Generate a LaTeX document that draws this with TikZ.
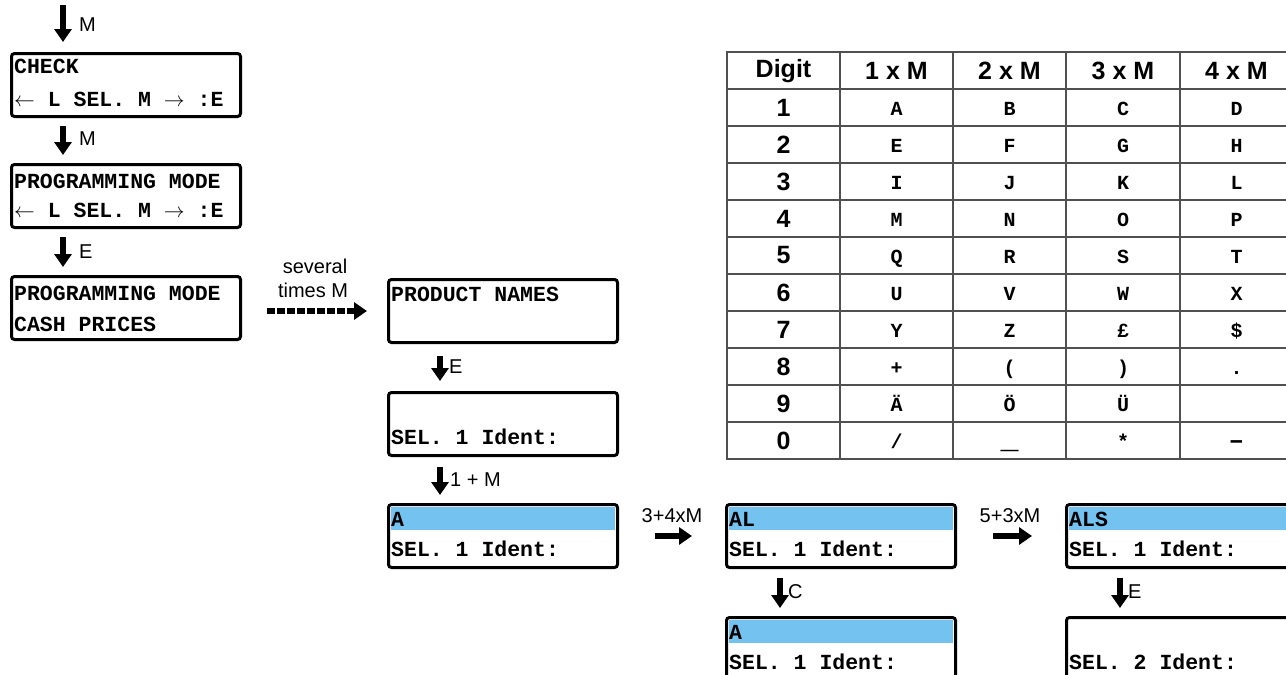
\documentclass[tikz,border=0pt]{standalone}
\usepackage{fontspec}
\setmainfont{Liberation Sans}
\newfontfamily\lcdfont{Liberation Mono}
\usetikzlibrary{arrows.meta,calc}
\definecolor{skyband}{HTML}{74C2F0}
\definecolor{gridgray}{HTML}{505050}
\tikzset{
  lcdbox/.style={draw=black, line width=3pt, rounded corners=3pt, minimum width=229pt, minimum height=63pt, anchor=north west, inner sep=0pt},
  lcdtxt/.style={font=\lcdfont\bfseries\fontsize{21.5}{21.5}\selectfont, anchor=west, inner sep=0pt},
  tbltxt/.style={font=\lcdfont\bfseries\fontsize{20}{20}\selectfont, inner sep=0pt, anchor=base},
  tblhead/.style={font=\bfseries\fontsize{25}{25}\selectfont, inner sep=0pt},
  blk/.style={line width=6pt, -{Triangle[width=17pt,length=13pt]}},
  dblk/.style={line width=6pt, dash pattern=on 8pt off 2pt, -{Triangle[width=17pt,length=13pt]}},
  lbl/.style={font=\fontsize{20}{20}\selectfont, inner sep=0pt},
}
\begin{document}
\begin{tikzpicture}[x=1pt,y=-1pt]
\useasboundingbox (0,0) rectangle (1286,675);
\clip (0,0) rectangle (1286,675);

% ---------- left column ----------
\node[lcdbox] (b1) at (10,52) {};
\node[lcdtxt] (b1a) at ($(b1.north west)+(4,14)$) {CHECK};
\node[lcdtxt] (b1b) at ($(b1.north west)+(4,47)$) {$\leftarrow$ L SEL. M $\rightarrow$ :E};

\node[lcdbox] (b2) at (10,163) {};
\node[lcdtxt] (b2a) at ($(b2.north west)+(4,18)$) {PROGRAMMING MODE};
\node[lcdtxt] (b2b) at ($(b2.north west)+(4,47)$) {$\leftarrow$ L SEL. M $\rightarrow$ :E};

\node[lcdbox] (b3) at (10,275) {};
\node[lcdtxt] (b3a) at ($(b3.north west)+(4,18)$) {PROGRAMMING MODE};
\node[lcdtxt] (b3b) at ($(b3.north west)+(4,49)$) {CASH PRICES};

\coordinate (top) at (63,5);
\draw[blk] (top) -- ($(b1.north west)+(53,-10)$);
\node[lbl, anchor=west] (l0) at (79,25) {M};
\draw[blk] ($(b1.south west)+(53,8)$) -- ($(b2.north west)+(53,-8)$);
\node[lbl, anchor=west] (l1) at (79,139) {M};
\draw[blk] ($(b2.south west)+(53,8)$) -- ($(b3.north west)+(53,-8)$);
\node[lbl, anchor=west] (l2) at (79,252) {E};

% ---------- middle column ----------
\node[lcdbox] (p1) at (387,278) {};
\node[lcdtxt] (p1a) at ($(p1.north west)+(4,16)$) {PRODUCT NAMES};

\node[lbl] (sev1) at (315,266) {several};
\node[lbl] (sev2) at (313,290) {times M};
\draw[dblk] ($(p1.west)+(-120,0)$) -- ($(p1.west)+(-20,0)$);

\node[lcdbox] (p2) at (387,391) {};
\node[lcdtxt] (p2a) at ($(p2.north west)+(4,46)$) {SEL. 1 Ident:};
\draw[blk] ($(p1.south west)+(53,12)$) -- ($(p2.north west)+(53,-10)$);
\node[lbl, anchor=west] (l3) at (449,367) {E};

\node[lcdbox] (p3) at (387,503) {};
\fill[skyband] ($(p3.north west)+(4,4)$) rectangle ($(p3.north east)+(-4,27)$);
\node[lcdtxt] (p3a) at ($(p3.north west)+(4,16)$) {A};
\node[lcdtxt] (p3b) at ($(p3.north west)+(4,46)$) {SEL. 1 Ident:};
\draw[blk] ($(p2.south west)+(53,10)$) -- ($(p3.north west)+(53,-8)$);
\node[lbl, anchor=west] (l4) at (450,480) {1 + M};

% ---------- AL column ----------
\node[lcdbox] (q1) at (725,503) {};
\fill[skyband] ($(q1.north west)+(4,4)$) rectangle ($(q1.north east)+(-4,27)$);
\node[lcdtxt] (q1a) at ($(q1.north west)+(4,16)$) {AL};
\node[lcdtxt] (q1b) at ($(q1.north west)+(4,46)$) {SEL. 1 Ident:};
\draw[blk] ($(p3.east)+(36,0)$) -- ($(q1.west)+(-33,0)$);
\node[lbl] (l5) at (672,516) {3+4xM};

\node[lcdbox] (q2) at (725,616) {};
\fill[skyband] ($(q2.north west)+(4,4)$) rectangle ($(q2.north east)+(-4,27)$);
\node[lcdtxt] (q2a) at ($(q2.north west)+(4,16)$) {A};
\node[lcdtxt] (q2b) at ($(q2.north west)+(4,46)$) {SEL. 1 Ident:};
\draw[blk] ($(q1.south west)+(55,9)$) -- ($(q2.north west)+(55,-8)$);
\node[lbl, anchor=west] (l6) at (788,592) {C};

% ---------- ALS column ----------
\node[lcdbox] (r1) at (1065,503) {};
\fill[skyband] ($(r1.north west)+(4,4)$) rectangle ($(r1.north east)+(-4,27)$);
\node[lcdtxt] (r1a) at ($(r1.north west)+(4,16)$) {ALS};
\node[lcdtxt] (r1b) at ($(r1.north west)+(4,46)$) {SEL. 1 Ident:};
\draw[blk] ($(q1.east)+(36,0)$) -- ($(r1.west)+(-33,0)$);
\node[lbl] (l7) at (1010,516) {5+3xM};

\node[lcdbox] (r2) at (1065,616) {};
\node[lcdtxt] (r2b) at ($(r2.north west)+(4,46)$) {SEL. 2 Ident:};
\draw[blk] ($(r1.south west)+(55,9)$) -- ($(r2.north west)+(55,-8)$);
\node[lbl, anchor=west] (l8) at (1128,592) {E};

% ---------- table ----------
\draw[gridgray, line width=1.3pt] (727,52) rectangle (1293,459);
\foreach \yy in {89,126,163,200,237,274,311,348,385,422}
  \draw[gridgray, line width=1.3pt] (727,\yy) -- (1293,\yy);
\foreach \xx in {840,953,1066,1180}
  \draw[gridgray, line width=1.3pt] (\xx,52) -- (\xx,459);

\node[tblhead] (h0) at (783.5,71) {Digit};
\node[tblhead] (h1) at (896.5,71) {1 x M};
\node[tblhead] (h2) at (1009.5,71) {2 x M};
\node[tblhead] (h3) at (1123,71) {3 x M};
\node[tblhead] (h4) at (1236.5,71) {4 x M};

\foreach \d/\a/\b/\c/\e [count=\i] in {1/A/B/C/D, 2/E/F/G/H, 3/I/J/K/L, 4/M/N/O/P, 5/Q/R/S/T, 6/U/V/W/X, 7/Y/Z/£/\$, 8/+/(/)/., 9/Ä/Ö/Ü/{}}{
  \node[tblhead] (d\i) at (783.5,{70.5+37*\i}) {\d};
  \node[tbltxt] (c\i-1) at (896.5,{78+37*\i}) {\a};
  \node[tbltxt] (c\i-2) at (1009.5,{78+37*\i}) {\b};
  \node[tbltxt] (c\i-3) at (1123,{78+37*\i}) {\c};
  \node[tbltxt] (c\i-4) at (1236.5,{78+37*\i}) {\e};
}
\node[tblhead] (d10) at (783.5,440.5) {0};
\node[tbltxt] (c10-1) at (896.5,448) {/};
\node[tbltxt, font=\lcdfont\bfseries\fontsize{30}{30}\selectfont] (c10-2) at (1009.5,448) {\_};
\node[tbltxt] (c10-3) at (1123,448) {*};
\node[tbltxt, font=\lcdfont\bfseries\fontsize{26}{26}\selectfont] (c10-4) at (1236.5,448) {–};
\end{tikzpicture}
\end{document}
